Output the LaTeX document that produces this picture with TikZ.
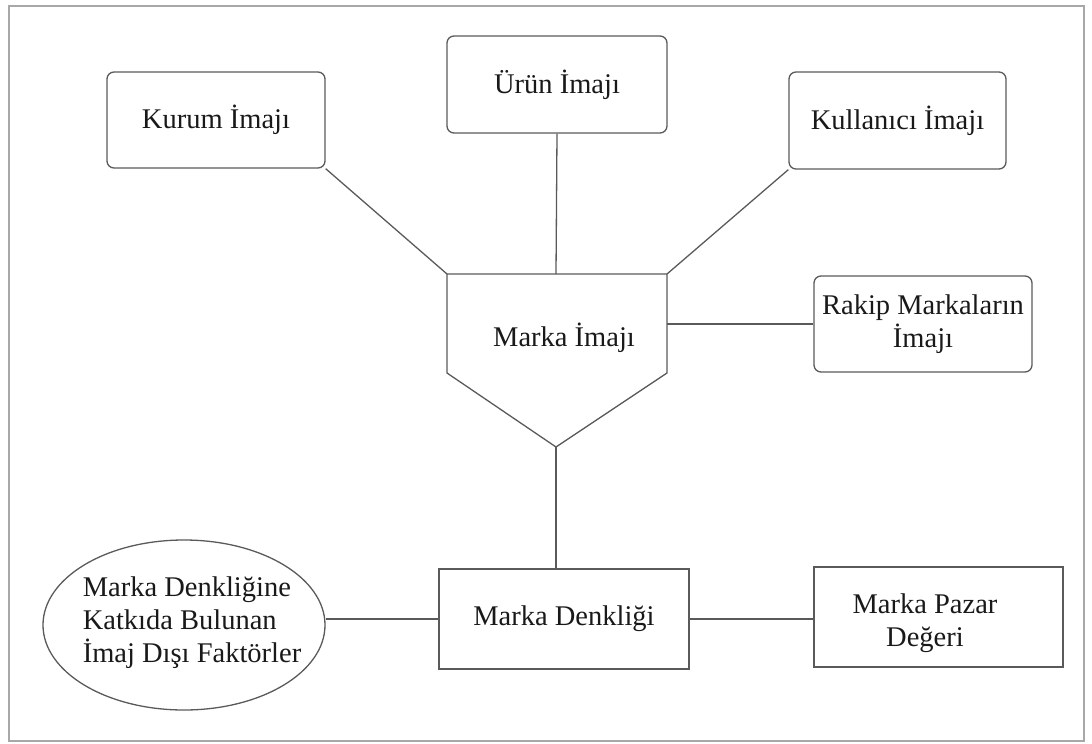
\documentclass[tikz,border=0pt]{standalone}
\usepackage{fontspec}
\setmainfont{Liberation Serif}
\usetikzlibrary{shapes.geometric}
\definecolor{edge}{HTML}{5A5A5A}
\definecolor{frame}{HTML}{A8A8A8}
\begin{document}
\begin{tikzpicture}[x=1pt,y=-1pt,
  every node/.style={font=\fontsize{28.5}{33}\selectfont, text=black!90},
  link/.style={draw=edge, line width=1.3pt},
  roundbox/.style={draw=edge, line width=1.3pt, rounded corners=7pt, inner sep=0pt, align=center},
  sqbox/.style={draw=edge, line width=1.3pt, inner sep=0pt, align=center},
  oval/.style={draw=edge, line width=1.3pt, ellipse, inner sep=0pt}]
  \useasboundingbox (0,0) rectangle (1092,744);
  \draw[frame, line width=2pt] (9,6) rectangle (1084,741);

  % image sources
  \node[roundbox, minimum width=218pt, minimum height=96pt] (kurum) at (216,120) {Kurum İmajı};
  \node[roundbox, minimum width=220pt, minimum height=97pt] (urun) at (557,84.5) {Ürün İmajı};
  \node[roundbox, minimum width=217pt, minimum height=97pt] (kullanici) at (897.5,120.5) {Kullanıcı İmajı};
  \node[roundbox, minimum width=218pt, minimum height=96pt] (rakip) at (923,324) {Rakip Markaların\\İmajı};

  % brand image: pentagon pointing down
  \coordinate (pTL) at (447,274);
  \coordinate (pTR) at (667,274);
  \coordinate (pTop) at (556,274);
  \coordinate (pR) at (667,324);
  \coordinate (pTip) at (556,447);
  \draw[link] (pTL) -- (pTR) -- (667,373) -- (pTip) -- (447,373) -- cycle;
  \node (imaj) at (564,338) {Marka İmajı};

  % equity row
  \node[sqbox, minimum width=250pt, minimum height=100pt] (denklik) at (564,619) {Marka Denkliği};
  \node[sqbox, minimum width=249pt, minimum height=100pt] (pazar) at (938.5,617) {};
  \node[align=center, inner sep=0pt] (pazartext) at (925,623) {Marka Pazar\\Değeri};
  \node[oval, minimum width=282pt, minimum height=170pt] (oval) at (184,625) {};
  \node[align=left, inner sep=0pt] (ovaltext) at (192,623) {Marka Denkliğine\\Katkıda Bulunan\\İmaj Dışı Faktörler};

  % connectors
  \draw[link] (kurum.south east) -- (pTL);
  \draw[link] (urun.south) -- (pTop);
  \draw[link] (kullanici.south west) -- (pTR);
  \draw[link] (rakip.west) -- (pR);
  \draw[link] (pTip) -- (pTip |- denklik.north);
  \draw[link] (oval.east |- denklik.west) -- (denklik.west);
  \draw[link] (denklik.east) -- (denklik.east -| pazar.west);
\end{tikzpicture}
\end{document}
